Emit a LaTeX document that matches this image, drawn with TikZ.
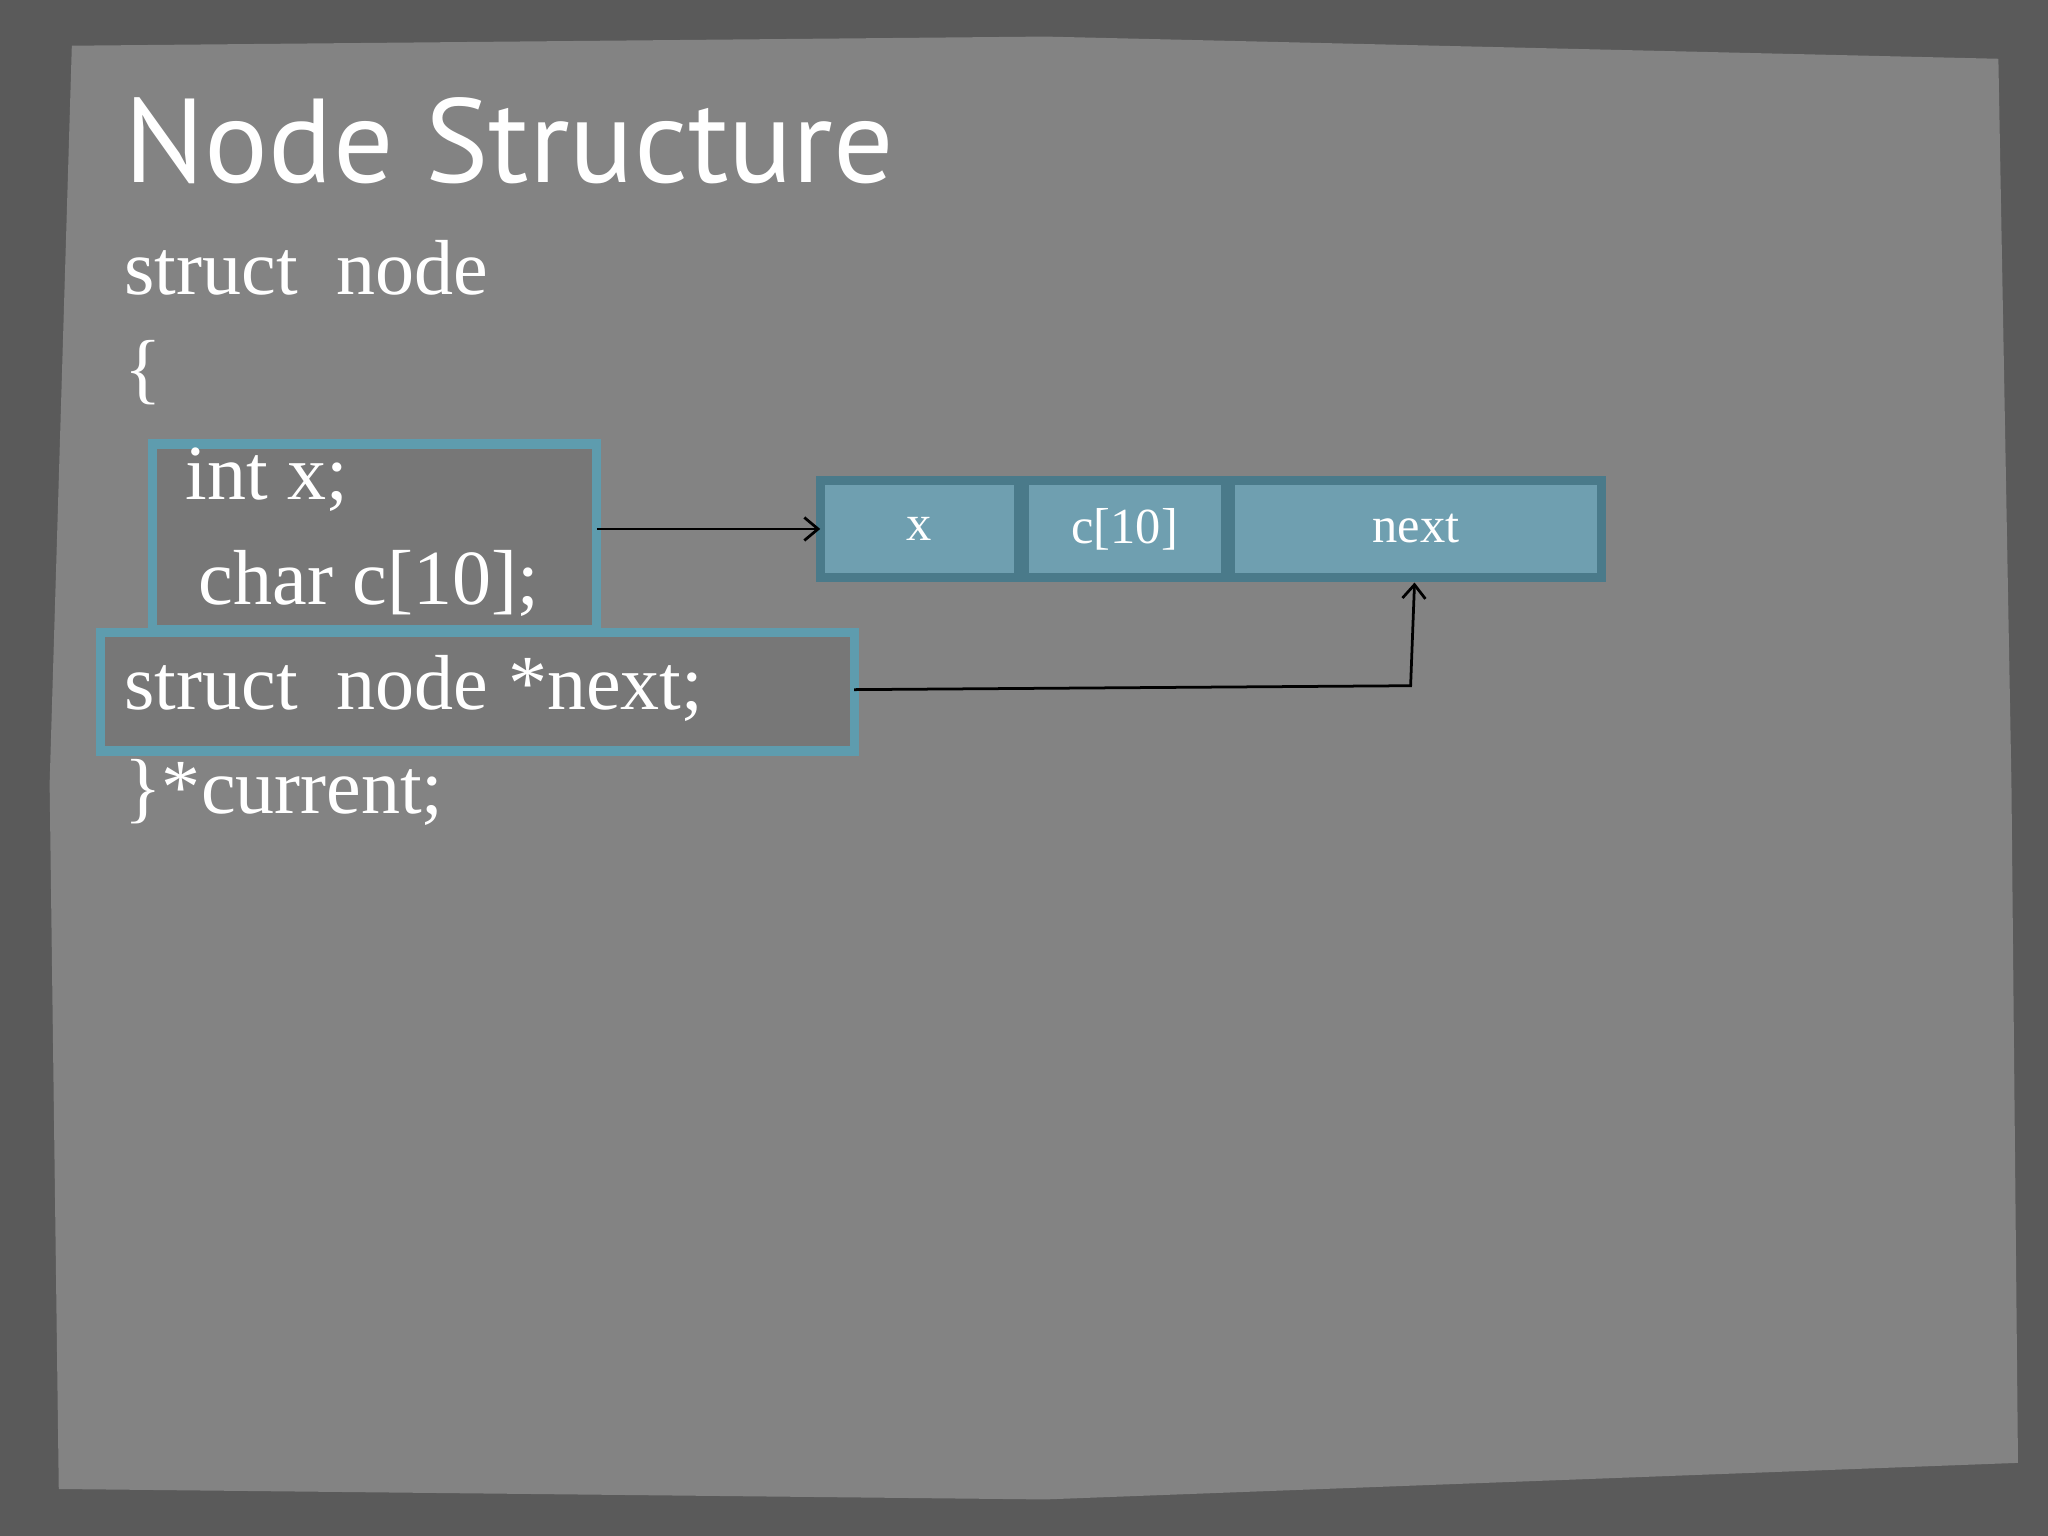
\documentclass[tikz,border=0pt]{standalone}
\usepackage{fontspec}
\setmainfont{Liberation Serif}
\newfontfamily\titlefont{PT Sans}
\usetikzlibrary{arrows.meta}
\definecolor{frame}{HTML}{5A5A5A}
\definecolor{paper}{HTML}{838383}
\definecolor{teal}{HTML}{5E9CAE}
\definecolor{cellfill}{HTML}{6F9FB0}
\definecolor{celledge}{HTML}{4A7A8A}
\definecolor{boxfill}{HTML}{777777}
\tikzset{
 code/.style={anchor=west,text=white,font=\fontsize{34}{38}\selectfont,inner sep=0pt},
 codebox/.style={draw=teal,line width=4pt,fill=boxfill},
 cell/.style={draw=celledge,line width=4pt,fill=cellfill,text=white,font=\fontsize{22}{26}\selectfont,anchor=north west,minimum height=1.48cm,outer sep=0pt},
 conn/.style={line width=1.2pt,-{Straight Barb[length=6pt,width=10pt]}}
}
\begin{document}
\begin{tikzpicture}[x=0.02cm,y=-0.02cm]
\useasboundingbox (0,0) rectangle (1568,1176);
\fill[frame] (0,0) rectangle (1568,1176);
\fill[paper] (55,35) -- (800,28) -- (1530,45) -- (1540,600) -- (1545,1120) -- (800,1148) -- (45,1140) -- (38,600) -- cycle;
\node[code,font=\titlefont\fontsize{52}{56}\selectfont] (title) at (95,108) {Node Structure};
\node[code] (l1) at (95,205) {struct\ \ node};
\node[code] (l2) at (95,285) {\{};
\draw[codebox] (117,340) rectangle (457,482);
\draw[codebox] (77,484) rectangle (654,575);
\coordinate (b1r) at (457,405);
\coordinate (b2r) at (654,528);
\node[code] (l3) at (142,367) {int x;};
\node[code] (l4) at (152,447) {char c[10];};
\node[code] (l5) at (95,527) {struct\ \ node *next;};
\node[code] (l6) at (95,607) {\}*current;};
\node[cell,minimum width=3.04cm] (cx) at (628,368) {x};
\node[cell,minimum width=3.08cm] (cc) at (784,368) {c[10]};
\node[cell,minimum width=5.68cm] (cn) at (942,368) {next};
\draw[conn] (b1r) -- (b1r -| cx.west);
\coordinate (bend) at (1080,525);
\coordinate (tgt) at (1083,446);
\draw[conn] (b2r) -- (bend) -- (tgt);
\end{tikzpicture}
\end{document}
